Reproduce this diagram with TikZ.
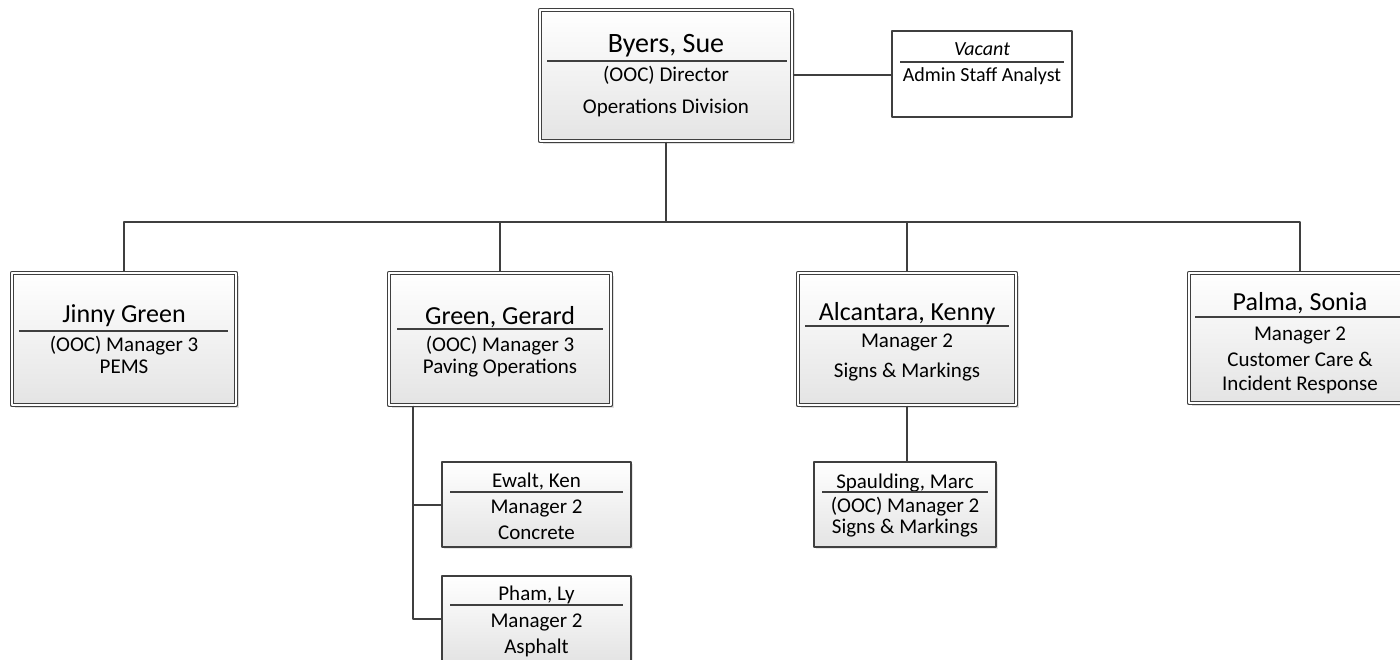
\documentclass[tikz,border=0pt]{standalone}
\usepackage{fontspec}
\setmainfont{Carlito}
\usetikzlibrary{shadows}
\definecolor{edge}{HTML}{3F3F3F}
\definecolor{boxfoot}{HTML}{E4E4E4}
\begin{document}
\begin{tikzpicture}[x=1pt,y=-1pt,line join=round,
		link/.style={draw=edge,line width=2pt},
		rule/.style={draw=edge,line width=1.2pt},
		bigbox/.style={draw=edge,line width=1.3pt,double=white,double distance=2.2pt,
			top color=white,bottom color=boxfoot,inner sep=0pt,
			drop shadow={shadow xshift=3pt,shadow yshift=-3pt,opacity=0.25}},
		smallbox/.style={draw=edge,line width=1.4pt,top color=white,bottom color=boxfoot,inner sep=0pt,
			drop shadow={shadow xshift=2pt,shadow yshift=-2pt,opacity=0.2}},
		plainbox/.style={draw=edge,line width=1.4pt,fill=white,inner sep=0pt},
		txt/.style={anchor=base,inner sep=0pt,font=\fontsize{21}{24}\selectfont},
		stafftxt/.style={anchor=base,inner sep=0pt,font=\fontsize{20}{24}\selectfont},
		headtxt/.style={anchor=base,inner sep=0pt,font=\fontsize{28}{32}\selectfont},
		mgrtxt/.style={anchor=base,inner sep=0pt,font=\fontsize{26}{30}\selectfont}]
	\useasboundingbox (0,0) rectangle (1400,660);
	% boxes
	\node[bigbox,minimum width=252,minimum height=131] (byers) at (666,75.5) {};
	\node[plainbox,minimum width=180,minimum height=86] (admin) at (982,74) {};
	\node[bigbox,minimum width=224,minimum height=132] (jinny) at (124,339) {};
	\node[bigbox,minimum width=222,minimum height=132] (green) at (500,339) {};
	\node[bigbox,minimum width=218,minimum height=132] (alcantara) at (907,339) {};
	\node[bigbox,minimum width=222,minimum height=130] (palma) at (1300,338) {};
	\node[smallbox,minimum width=189,minimum height=85] (ewalt) at (536.5,504.5) {};
	\node[smallbox,minimum width=189,minimum height=85] (pham) at (536.5,618.5) {};
	\node[smallbox,minimum width=182,minimum height=85] (spaulding) at (905,504.5) {};
	% director
	\node[headtxt] (byers-a) at (666,53) {Byers, Sue};
	\draw[rule] (547,61) -- (787,61);
	\node[txt] (byers-b) at (666,82) {(OOC) Director};
	\node[txt] (byers-c) at (666,114) {Operations Division};
	% staff
	\node[stafftxt] (admin-a) at (982,56) {\itshape Vacant};
	\draw[rule] (900,62) -- (1064,62);
	\node[stafftxt] (admin-b) at (982,82) {Admin Staff Analyst};
	% managers
	\node[mgrtxt] (jinny-a) at (124,323) {Jinny Green};
	\draw[rule] (19,331) -- (228,331);
	\node[txt] (jinny-b) at (124,351) {(OOC) Manager 3};
	\node[txt] (jinny-c) at (124,373) {PEMS};
	\node[mgrtxt] (green-a) at (500,324) {Green, Gerard};
	\draw[rule] (397,329) -- (603,329);
	\node[txt] (green-b) at (500,352) {(OOC) Manager 3};
	\node[txt] (green-c) at (500,373) {Paving Operations};
	\node[mgrtxt] (alcantara-a) at (907,320) {Alcantara, Kenny};
	\draw[rule] (805,326) -- (1009,326);
	\node[txt] (alcantara-b) at (907,347) {Manager 2};
	\node[txt] (alcantara-c) at (907,377) {Signs \& Markings};
	\node[mgrtxt] (palma-a) at (1300,310) {Palma, Sonia};
	\draw[rule] (1195,317) -- (1405,317);
	\node[txt] (palma-b) at (1300,340) {Manager 2};
	\node[txt] (palma-c) at (1300,366) {Customer Care \&};
	\node[txt] (palma-d) at (1300,390) {Incident Response};
	% supervisors
	\node[txt] (ewalt-a) at (536.5,487) {Ewalt, Ken};
	\draw[rule] (450,492) -- (623,492);
	\node[txt] (ewalt-b) at (536.5,513) {Manager 2};
	\node[txt] (ewalt-c) at (536.5,539) {Concrete};
	\node[txt] (pham-a) at (536.5,600) {Pham, Ly};
	\draw[rule] (450,605) -- (623,605);
	\node[txt] (pham-b) at (536.5,627) {Manager 2};
	\node[txt] (pham-c) at (536.5,653) {Asphalt};
	\node[txt] (spaulding-a) at (905,488) {Spaulding, Marc};
	\draw[rule] (822,492) -- (988,492);
	\node[txt] (spaulding-b) at (905,512) {(OOC) Manager 2};
	\node[txt] (spaulding-c) at (905,533) {Signs \& Markings};
	% connectors
	\coordinate (bus) at (666,222);
	\draw[link] (byers.south) -- (bus);
	\foreach \c in {jinny,green,alcantara,palma}
		\draw[link] (bus) -| (\c.north);
	\draw[link] (byers.east) -- (byers.east -| admin.west);
	\coordinate (trunk) at ([xshift=25pt]green.south west);
	\draw[link] (trunk) |- (ewalt.west);
	\draw[link] (trunk) |- (pham.west);
	\draw[link] (alcantara.south) -- (alcantara.south |- spaulding.north);
\end{tikzpicture}
\end{document}
